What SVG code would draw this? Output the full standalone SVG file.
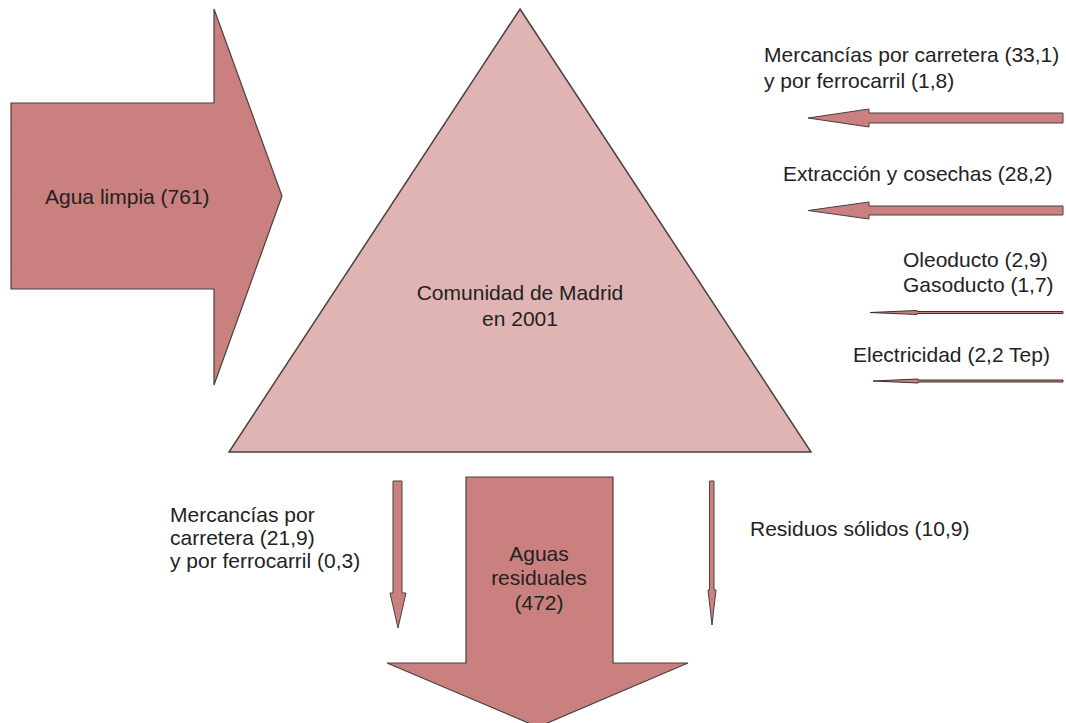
<svg xmlns="http://www.w3.org/2000/svg" width="1066" height="723" viewBox="0 0 1066 723">
<style>
.big{fill:#c9807e;stroke:#4a4040;stroke-width:1.2;stroke-linejoin:miter}
.tri{fill:#e0b4b2;stroke:#4a4040;stroke-width:1.5}
.sm{fill:#c9807e;stroke:#4a4040;stroke-width:1}
.thin{fill:#c9807e;stroke:#3a3030;stroke-width:1}
text{font-family:"Liberation Sans",Arial,sans-serif;font-size:21px;fill:#222}
.c{text-anchor:middle}
</style>
<rect width="1066" height="723" fill="#fff"/>
<g id="madrid">
<polygon class="tri" points="520,9 811,452 229,452"/>
<text class="c" x="520" y="300">Comunidad de Madrid</text>
<text class="c" x="520" y="326">en 2001</text>
</g>
<g id="agua-limpia">
<polygon class="big" points="11,103 214,103 214,9 282,196 214,385 214,289 11,289"/>
<text x="45" y="204">Agua limpia (761)</text>
</g>
<g id="aguas-residuales">
<polygon class="big" points="466,477 613,477 613,663 688,663 538,727 387,663 466,663"/>
<text class="c" x="539" y="561">Aguas</text>
<text class="c" x="539" y="585">residuales</text>
<text class="c" x="539" y="610">(472)</text>
</g>
<g id="connectors">
<polygon class="sm" points="1063,113 1063,123 869,123 869,127 808,118 869,109 869,113"/>
<polygon class="sm" points="1063,206 1063,215 869,215 869,219 808,210.5 869,202 869,206"/>
<polygon class="thin" points="1063,311.5 1063,313.5 917,313.5 917,314.5 870,312.5 917,310.5 917,311.5"/>
<polygon class="thin" points="1063,380 1063,382 918,382 918,383 873,381 918,379 918,380"/>
<polygon class="sm" points="393,481 402,481 402,593 406,593 398,628 390,593 393,593"/>
<polygon class="sm" points="709.5,481 714,481 714,590 716,590 712,625 708,590 709.5,590"/>
</g>
<g id="label-mercancias-in">
<text x="764" y="62">Mercancías por carretera (33,1)</text>
<text x="764" y="88">y por ferrocarril (1,8)</text>
</g>
<g id="label-extraccion">
<text x="783" y="181">Extracción y cosechas (28,2)</text>
</g>
<g id="label-oleo-gas">
<text x="903" y="267">Oleoducto (2,9)</text>
<text x="903" y="292">Gasoducto (1,7)</text>
</g>
<g id="label-electricidad">
<text x="853" y="362">Electricidad (2,2 Tep)</text>
</g>
<g id="label-mercancias-out">
<text x="170" y="522">Mercancías por</text>
<text x="170" y="545">carretera (21,9)</text>
<text x="170" y="568">y por ferrocarril (0,3)</text>
</g>
<g id="label-residuos">
<text x="750" y="536">Residuos sólidos (10,9)</text>
</g>
</svg>
